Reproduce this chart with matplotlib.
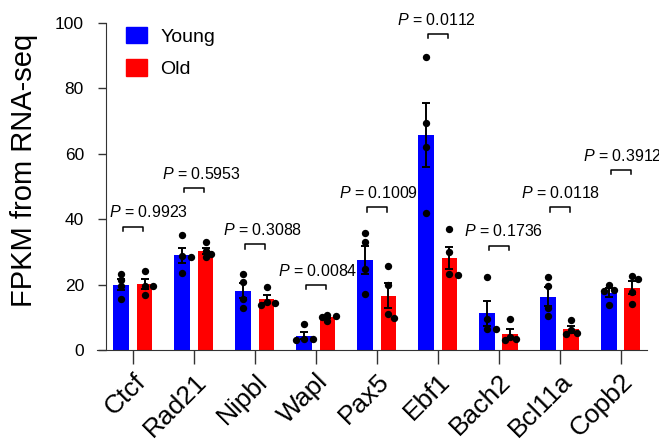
import numpy as np
import matplotlib
matplotlib.use("Agg")
import matplotlib.pyplot as plt
import matplotlib.transforms as mtransforms
from matplotlib.patches import Patch

plt.rcParams['font.family'] = ['Liberation Sans', 'DejaVu Sans']
plt.rcParams['mathtext.fontset'] = 'custom'
plt.rcParams['mathtext.rm'] = 'Liberation Sans'
plt.rcParams['mathtext.it'] = 'Liberation Sans:italic'

genes = ["Ctcf", "Rad21", "Nipbl", "Wapl", "Pax5", "Ebf1", "Bach2", "Bcl11a", "Copb2"]

young_points = [
    [23.3, 21.4, 19.6, 15.5],
    [35.1, 28.6, 28.4, 23.6],
    [23.1, 20.9, 15.5, 12.9],
    [7.8, 3.4, 3.3, 3.2],
    [35.8, 33.1, 24.6, 17.0],
    [89.4, 69.5, 62.1, 41.8],
    [22.4, 9.6, 6.5, 6.3],
    [22.4, 19.6, 12.7, 10.4],
    [20.0, 18.4, 17.9, 13.8],
]
old_points = [
    [24.2, 19.7, 19.5, 16.8],
    [33.1, 30.2, 29.3, 28.5],
    [19.1, 14.8, 14.3, 13.6],
    [10.8, 10.5, 10.2, 9.0],
    [25.7, 19.9, 10.9, 9.7],
    [36.9, 30.0, 23.1, 22.9],
    [9.4, 4.0, 3.4, 3.2],
    [9.2, 6.0, 5.1, 5.0],
    [22.6, 21.6, 17.8, 14.1],
]
p_values = ["0.9923", "0.5953", "0.3088", "0.0084", "0.1009", "0.0112", "0.1736", "0.0118", "0.3912"]
p_bracket_y = [37.7, 49.5, 32.3, 19.9, 43.6, 96.5, 31.9, 43.6, 55.0]
p_text_dx = [0.25, 0.12, 0.12, 0.03, 0.02, -0.03, 0.08, 0.02, 0.03]

young_color = "#0000FF"
old_color = "#FF0000"

fig = plt.figure(figsize=(6.59, 4.40), dpi=100)
ax = fig.add_axes([97/659, 1-350/440, 550/659, 327.3/440])

x = np.arange(len(genes))
off = 0.19
w = 0.26


def mean_sem(pts):
    a = np.asarray(pts, float)
    return a.mean(), a.std(ddof=1) / np.sqrt(len(a))


def swarm(vals, ypx=3.273, xpx=61.0, diam=5.5):
    d = 0.085
    placed = []
    offsets = []
    for v in vals:
        for c in [0, d, -d, 1.6*d, -1.6*d]:
            ok = True
            for (pv, pc) in placed:
                dist = np.hypot((v - pv) * ypx, (c - pc) * xpx)
                if dist < diam:
                    ok = False
                    break
            if ok:
                break
        placed.append((v, c))
        offsets.append(c)
    return np.array(offsets)


ym = [mean_sem(p) for p in young_points]
om = [mean_sem(p) for p in old_points]

ax.bar(x - off, [m for m, s in ym], width=w, color=young_color, zorder=2, label="Young")
ax.bar(x + off, [m for m, s in om], width=w, color=old_color, zorder=2, label="Old")

for i in range(len(genes)):
    for pts, (m, s), sgn in [(young_points[i], ym[i], -1), (old_points[i], om[i], 1)]:
        cx = x[i] + sgn * off
        ax.errorbar(cx, m, yerr=s, color="black", capsize=3, elinewidth=1.4,
                    capthick=1.4, zorder=3)
        jit = swarm(pts)
        ax.scatter(cx + jit, pts, s=28, color="black", zorder=4, linewidths=0)

    by = p_bracket_y[i]
    x0, x1 = x[i] - 0.16, x[i] + 0.16
    ax.plot([x0, x0, x1, x1], [by - 1.3, by, by, by - 1.3], color="black",
            lw=1.1, clip_on=False, zorder=5)
    ax.text(x[i] + p_text_dx[i], by + 2.8, "$P$ = " + p_values[i], ha="center",
            va="baseline", fontsize=11.5, clip_on=False)

ax.set_xlim(-0.59, 8.43)
ax.set_ylim(0, 100)
ax.set_yticks([0, 20, 40, 60, 80, 100])
ax.set_xticks(x)
ax.set_xticklabels(genes, rotation=45, ha="right", va="top", rotation_mode="anchor",
                   fontsize=19)
shift = mtransforms.ScaledTranslation(-7/100, -6/100, fig.dpi_scale_trans)
for lbl in ax.get_xticklabels():
    lbl.set_transform(lbl.get_transform() + shift)
ax.tick_params(axis="x", length=10, width=1, color="#333333", pad=4)
ax.tick_params(axis="y", length=6, width=1, color="#333333", labelsize=12.5, pad=10)

for sp in ["top", "right"]:
    ax.spines[sp].set_visible(False)
ax.spines["left"].set_position(("data", -0.44))
ax.spines["left"].set_bounds(0, 100)
ax.spines["left"].set_color("#333333")
ax.spines["bottom"].set_color("#333333")

ax.set_ylabel("FPKM from RNA-seq", fontsize=21)
ax.yaxis.set_label_coords(-0.107, 0.55)

handles = [Patch(color=young_color, label="Young"), Patch(color=old_color, label="Old")]
ax.legend(handles=handles, loc="upper left", bbox_to_anchor=(0.02, 1.04), frameon=False,
          fontsize=14, handlelength=1.1, handleheight=0.9, handletextpad=0.7,
          labelspacing=0.7)

fig.savefig("out.png", dpi=100)
